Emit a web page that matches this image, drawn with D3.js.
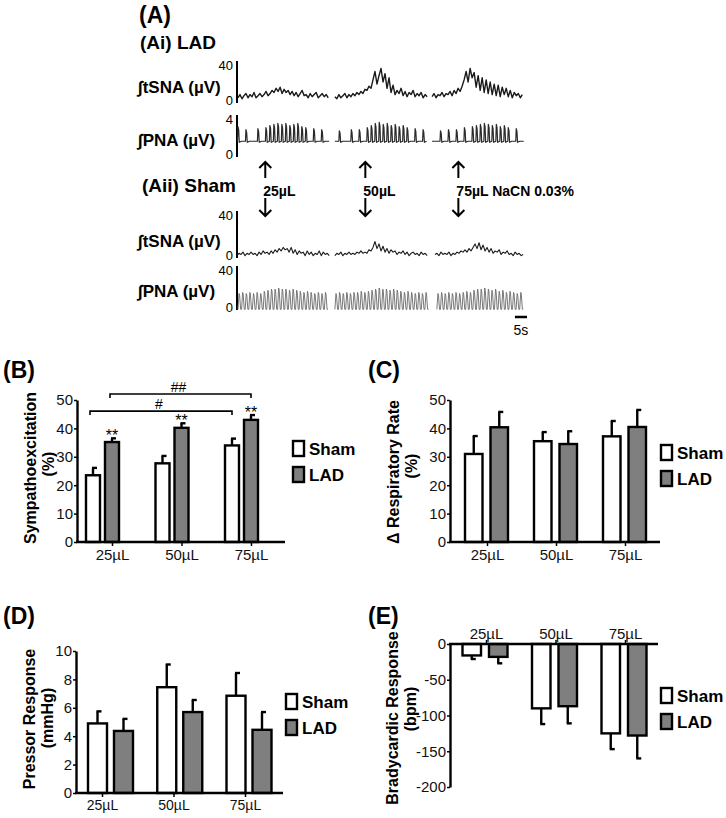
<!DOCTYPE html>
<html>
<head>
<meta charset="utf-8">
<script src="https://cdn.jsdelivr.net/npm/d3@7"></script>
<style>
  body { margin: 0; background: #fff; }
  svg { font-family: "Liberation Sans", Arial, sans-serif; }
</style>
</head>
<body>
<svg id="fig" width="726" height="818"></svg>
<script>
// ---- data ----
var doses = ["25µL", "50µL", "75µL"];

// (B) sympathoexcitation (%)
var symSham = [23.5, 27.7, 34.0], symShamErr = [2.6, 2.6, 2.4];
var symLad = [35.2, 40.2, 43.0], symLadErr = [1.3, 1.6, 1.7];
// (C) respiratory rate change (%)
var respSham = [31.0, 35.5, 37.2], respShamErr = [6.3, 3.2, 5.4];
var respLad = [40.4, 34.5, 40.5], respLadErr = [5.4, 4.5, 6.0];
// (D) pressor response (mmHg)
var presSham = [4.9, 7.45, 6.85], presShamErr = [0.85, 1.6, 1.6];
var presLad = [4.37, 5.7, 4.45], presLadErr = [0.85, 0.85, 1.25];
// (E) bradycardic response (bpm)
var bradSham = [-16, -90, -125], bradShamErr = [5, 22, 22];
var bradLad = [-18, -87, -128], bradLadErr = [9, 24, 32];

// (A) traces, tSNA samples (µV) per segment
var ladTsna1 = [5,8,4,7,9,5,8,6,10,5,7,9,6,8,11,7,9,12,10,14,11,15,9,13,10,12,8,11,7,10,6,9,12,7,8,5,9,6,8,10,5,7,9,6,8,5];
var ladTsna2 = [6,4,8,5,7,9,5,8,6,9,7,10,8,11,9,13,12,16,14,22,30,18,26,33,20,28,14,24,10,17,8,12,9,14,7,11,6,10,8,12,6,9,7,10,5,8,6];
var ladTsna3 = [6,9,5,8,7,10,6,9,8,11,7,12,9,14,11,16,22,30,20,33,24,29,15,26,12,24,10,22,9,20,8,18,7,17,6,15,8,14,6,12,5,10,7,9,5,8];
var shamTsna1 = [2,4,3,5,2,4,3,5,3,4,2,5,3,6,4,5,3,6,4,7,5,8,6,9,7,8,5,9,4,7,3,6,4,5,2,6,3,5,2,4,3,6,2,5,3,4,2];
var shamTsna2 = [2,4,3,5,2,4,3,5,3,4,3,5,4,6,4,5,4,7,6,9,14,8,12,6,10,5,8,4,7,5,6,3,5,4,6,3,5,2,4,5,3,4,2,5,3,4,2];
var shamTsna3 = [3,4,2,5,3,4,3,5,2,4,3,5,4,6,5,7,5,8,6,9,12,8,13,7,11,6,9,5,8,4,6,5,7,3,5,4,6,3,4,2,5,3,4,2,3];
// PNA burst peaks (µV) per breath slot, 0 = no burst
var ladPna1 = [2.9,0,2.6,0,0,2.7,0,2.8,3.0,3.1,3.2,3.1,3.2,3.0,3.1,3.2,2.9,2.8,0,2.7,0,2.6,0];
var ladPna2 = [0,2.5,0,0,2.6,0,2.6,0,2.8,3.0,3.2,3.3,3.1,3.2,3.0,3.1,2.9,3.0,2.8,0,2.7,0,2.6];
var ladPna3 = [0,0,2.5,0,2.6,0,2.6,0,2.8,0,2.9,3.0,3.1,3.2,3.1,3.0,3.1,2.9,3.0,2.8,0,2.7,0];
var shamPna1 = [15,16,15,16,15,16,15,17,18,19,19,20,19,19,18,19,18,17,16,17,16,15,16,15,16];
var shamPna2 = [15,16,15,16,15,16,16,17,16,17,18,19,20,19,19,18,19,18,17,16,17,16,15,16,15,16];
var shamPna3 = [15,16,15,16,15,16,15,16,17,16,18,19,19,20,19,18,19,17,18,16,17,16,15,16];

var svg = d3.select("#fig");
var BOLD = "bold";

function txt(x, y, s, size, weight, anchor) {
  return svg.append("text").attr("x", x).attr("y", y).text(s)
    .style("font-size", size + "px").style("font-weight", weight || "normal")
    .attr("text-anchor", anchor || "start").attr("fill", "#000");
}
function vtxt(x, y, s, size) {
  return svg.append("text").attr("transform", "translate(" + x + "," + y + ") rotate(-90)")
    .attr("text-anchor", "middle").attr("dominant-baseline", "central")
    .style("font-size", size + "px").style("font-weight", "bold").text(s);
}

// ---- panel A ----
var xT = d3.scaleLinear().domain([0, 120]).range([237, 527]);

txt(139, 23, "(A)", 23, BOLD);
txt(140, 49, "(Ai) LAD", 19, BOLD);
txt(142, 192, "(Aii) Sham", 19, BOLD);

function tsnaPts(seg, t0) {
  return seg.map(function(v, k){ return [t0 + k * 0.83, v]; });
}
function ladBurstPts(seg, t0) {
  var slot = 1.65, base = 1.5, pts = [];
  seg.forEach(function(a, k){
    var s = t0 + k * slot;
    pts.push([s, base]);
    if (a > 0) {
      pts.push([s + 0.12 * slot, a]);
      pts.push([s + 0.3 * slot, a * 0.9]);
      pts.push([s + 0.45 * slot, base - 0.1]);
    }
  });
  pts.push([t0 + seg.length * slot, base]);
  return pts;
}
function shamBurstPts(seg, t0) {
  var slot = 1.49, base = 0.6, pts = [];
  seg.forEach(function(a, k){
    var s = t0 + k * slot;
    pts.push([s, base]);
    pts.push([s + 0.3 * slot, a]);
    pts.push([s + 0.45 * slot, a * 0.9]);
    pts.push([s + 0.75 * slot, base]);
  });
  pts.push([t0 + seg.length * slot, base]);
  return pts;
}

function traceRow(o) {
  var y = d3.scaleLinear().domain([0, o.max]).range([o.yb, o.yt]);
  svg.append("line").attr("x1", 237).attr("x2", 237).attr("y1", y(0)).attr("y2", y(o.max))
    .attr("stroke", "#000").attr("stroke-width", 2);
  txt(233, y(o.max) + 9, String(o.max), 13, "normal", "end");
  txt(233, y(0) + 2, "0", 13, "normal", "end");
  txt(138, o.labelY, o.label, 17, BOLD);
  var line = d3.line().x(function(d){ return xT(d[0]); }).y(function(d){ return y(d[1]); });
  o.segs.forEach(function(seg, i){
    svg.append("path").attr("d", line(o.shape(seg, o.starts[i])))
      .attr("fill", "none").attr("stroke", o.color).attr("stroke-width", o.sw)
      .attr("stroke-linejoin", "round");
  });
}

traceRow({max: 40, yb: 103, yt: 61, label: "\u222BtSNA (µV)", labelY: 93,
  segs: [ladTsna1, ladTsna2, ladTsna3], starts: [0.4, 40.5, 80.7], shape: tsnaPts, color: "#1a1a1a", sw: 1.4});
traceRow({max: 4, yb: 157, yt: 115, label: "\u222BPNA (µV)", labelY: 146,
  segs: [ladPna1, ladPna2, ladPna3], starts: [0.2, 40.5, 80.7], shape: ladBurstPts, color: "#2a2a2a", sw: 1.2});
traceRow({max: 40, yb: 258, yt: 211, label: "\u222BtSNA (µV)", labelY: 247,
  segs: [shamTsna1, shamTsna2, shamTsna3], starts: [0, 40.5, 81.9], shape: tsnaPts, color: "#1a1a1a", sw: 1.1});
traceRow({max: 40, yb: 310, yt: 266, label: "\u222BPNA (µV)", labelY: 297,
  segs: [shamPna1, shamPna2, shamPna3], starts: [0.4, 40.5, 82.7], shape: shamBurstPts, color: "#6a6a6a", sw: 0.9});

// arrows at injection times
var injT = [11.7, 53.1, 91.6];
var injLabels = ["25µL", "50µL", "75µL NaCN 0.03%"];
injT.forEach(function(t, i){
  var x = xT(t);
  svg.append("path").attr("d", "M" + x + ",178V162M" + (x - 6) + ",168L" + x + ",162L" + (x + 6) + ",168")
    .attr("fill", "none").attr("stroke", "#000").attr("stroke-width", 2);
  svg.append("path").attr("d", "M" + x + ",198V216M" + (x - 6) + ",210L" + x + ",216L" + (x + 6) + ",210")
    .attr("fill", "none").attr("stroke", "#000").attr("stroke-width", 2);
  txt(x - 2, 196, injLabels[i], 14, BOLD);
});

// 5 s scale bar
svg.append("line").attr("x1", xT(115)).attr("x2", xT(120)).attr("y1", 317).attr("y2", 317)
  .attr("stroke", "#000").attr("stroke-width", 2.5);
txt((xT(115) + xT(120)) / 2, 335, "5s", 14, "normal", "middle");

// ---- bar panels ----
function barPanel(o) {
  var y = d3.scaleLinear().domain(o.yDomain).range([o.yb, o.yt]);
  var gx = d3.scalePoint().domain(doses).range(o.groupRange);
  var tx = d3.scalePoint().domain(doses).range(o.tickRange);
  var g = svg.append("g");
  var series = [
    {vals: o.sham, err: o.shamErr, fill: "#fff", off: -o.gap / 2 - o.bw},
    {vals: o.lad, err: o.ladErr, fill: "#7f7f7f", off: o.gap / 2}
  ];
  series.forEach(function(s){
    doses.forEach(function(d, i){
      var v = s.vals[i], x0 = gx(d) + s.off, cx = x0 + o.bw / 2;
      var sign = v < 0 ? -1 : 1;
      var ye = y(v + sign * s.err[i]);
      g.append("line").attr("x1", cx).attr("x2", cx).attr("y1", y(v)).attr("y2", ye)
        .attr("stroke", "#000").attr("stroke-width", 2.4);
      g.append("line").attr("x1", cx - 1).attr("x2", cx + 4).attr("y1", ye).attr("y2", ye)
        .attr("stroke", "#000").attr("stroke-width", 2.4);
      g.append("rect").attr("x", x0).attr("width", o.bw)
        .attr("y", Math.min(y(v), y(0))).attr("height", Math.abs(y(v) - y(0)))
        .attr("fill", s.fill).attr("stroke", "#000").attr("stroke-width", 2.4);
    });
  });

  // y axis
  var ya = g.append("g").attr("transform", "translate(" + o.ax + ",0)")
    .call(d3.axisLeft(y).tickValues(o.yTicks).tickSize(3).tickSizeOuter(0).tickPadding(1)
      .tickFormat(function(d){ return String(d); }));
  ya.select(".domain").attr("stroke-width", 2.4);
  ya.selectAll(".tick line").attr("stroke-width", 1.5);
  ya.selectAll(".tick text").style("font-size", "15px").attr("fill", "#111")
    .style("font-family", "'Liberation Sans', Arial, sans-serif");

  // x axis at zero
  var xa = g.append("g").attr("transform", "translate(0," + y(0) + ")")
    .call((o.top ? d3.axisTop(tx) : d3.axisBottom(tx)).tickSize(4).tickSizeOuter(0).tickPadding(o.top ? 1 : 3));
  xa.select(".domain").remove();
  xa.selectAll(".tick line").attr("stroke-width", 1.5);
  xa.selectAll(".tick text").style("font-size", o.catSize + "px").attr("fill", "#111")
    .style("font-family", "'Liberation Sans', Arial, sans-serif");
  g.append("line").attr("x1", o.ax - 1).attr("x2", o.xEnd).attr("y1", y(0)).attr("y2", y(0))
    .attr("stroke", "#000").attr("stroke-width", 2.4);

  // legend
  [["Sham", "#fff", o.legY], ["LAD", "#7f7f7f", o.legY + 26]].forEach(function(l){
    g.append("rect").attr("x", o.legX).attr("y", l[2]).attr("width", 11).attr("height", 15)
      .attr("fill", l[1]).attr("stroke", "#000").attr("stroke-width", 2.4);
    txt(o.legX + 16, l[2] + 14, l[0], 17, BOLD);
  });

  // titles
  txt(o.tagX, o.tagY, o.tag, 23, BOLD);
  vtxt(o.labX, o.labY, o.label, 16);
  vtxt(o.labX + 18, o.unitY, o.unit, 16);
  return {y: y, gx: gx, bw: o.bw, gap: o.gap};
}

var pB = barPanel({yDomain: [0, 50], yb: 542, yt: 400, yTicks: [0, 10, 20, 30, 40, 50],
  ax: 77, xEnd: 285, groupRange: [102.5, 241.5], tickRange: [112, 251], bw: 14, gap: 5,
  sham: symSham, shamErr: symShamErr, lad: symLad, ladErr: symLadErr, catSize: 15,
  legX: 293, legY: 441, tag: "(B)", tagX: 3, tagY: 378,
  label: "Sympathoexcitation", unit: "(%)", labX: 30, labY: 468, unitY: 464});

barPanel({yDomain: [0, 50], yb: 542, yt: 400, yTicks: [0, 10, 20, 30, 40, 50],
  ax: 450, xEnd: 660, groupRange: [486.5, 624.5], tickRange: [487, 625], bw: 17.5, gap: 8,
  sham: respSham, shamErr: respShamErr, lad: respLad, ladErr: respLadErr, catSize: 15,
  legX: 661, legY: 445, tag: "(C)", tagX: 368, tagY: 378,
  label: "\u0394 Respiratory Rate", unit: "(%)", labX: 393, labY: 472, unitY: 466});

barPanel({yDomain: [0, 10], yb: 793, yt: 651, yTicks: [0, 2, 4, 6, 8, 10],
  ax: 76, xEnd: 283, groupRange: [110.5, 249], tickRange: [102, 245], bw: 19, gap: 7,
  sham: presSham, shamErr: presShamErr, lad: presLad, ladErr: presLadErr, catSize: 14,
  legX: 286, legY: 694, tag: "(D)", tagX: 3, tagY: 624,
  label: "Pressor Response", unit: "(mmHg)", labX: 29, labY: 719, unitY: 718});

barPanel({yDomain: [-200, 0], yb: 787, yt: 644, yTicks: [-200, -150, -100, -50, 0], top: true,
  ax: 450, xEnd: 658, groupRange: [485, 624], tickRange: [486, 625], bw: 18.5, gap: 8,
  sham: bradSham, shamErr: bradShamErr, lad: bradLad, ladErr: bradLadErr, catSize: 15,
  legX: 661, legY: 688, tag: "(E)", tagX: 368, tagY: 624,
  label: "Bradycardic Response", unit: "(bpm)", labX: 392, labY: 718, unitY: 709});

// significance marks in (B)
symLad.forEach(function(v, i){
  var cx = pB.gx(doses[i]) + pB.gap / 2 + pB.bw / 2;
  txt(cx, pB.y(v + symLadErr[i]) + 3, "**", 16, "normal", "middle");
});
function bracket(i0, off0, i1, off1, val, mark) {
  var x0 = pB.gx(doses[i0]) + off0, x1 = pB.gx(doses[i1]) + off1, yy = pB.y(val);
  svg.append("path").attr("d", "M" + x0 + "," + (yy + 4) + "V" + yy + "H" + x1 + "V" + (yy + 4))
    .attr("fill", "none").attr("stroke", "#000").attr("stroke-width", 1.6);
  txt((x0 + x1) / 2 - 2, yy - 2, mark, 14, "normal", "middle");
}
var shamOff = -pB.gap / 2 - pB.bw / 2, ladOff = pB.gap / 2 + pB.bw / 2;
bracket(0, shamOff - 3, 2, shamOff, 46.1, "#");
bracket(0, ladOff - 2, 2, ladOff, 52.1, "##");
</script>
</body>
</html>
